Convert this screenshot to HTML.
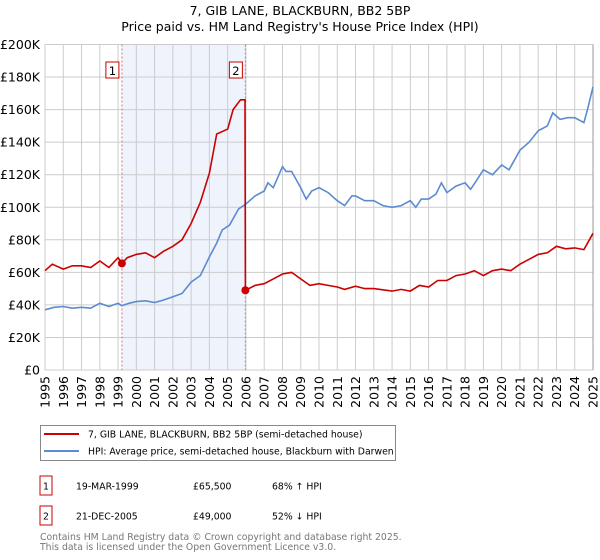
<!DOCTYPE html>
<html><head><meta charset="utf-8"><style>
body{margin:0;background:#fff;font-family:"Liberation Sans","DejaVu Sans",sans-serif;}
#wrap{position:relative;width:600px;height:560px;overflow:hidden}
</style></head><body>
<div id="wrap">
<svg id="chart" width="600" height="560" font-family="DejaVu Sans, Liberation Sans, sans-serif"></svg>
</div>
<script>
const hpiYears=[1995,1995.5,1996,1996.5,1997,1997.5,1998,1998.5,1999,1999.2,1999.6,2000,2000.5,2001,2001.5,2002,2002.5,2003,2003.5,2004,2004.4,2004.7,2005.1,2005.6,2006,2006.5,2007,2007.2,2007.5,2008,2008.2,2008.5,2009,2009.3,2009.6,2010,2010.5,2011,2011.4,2011.8,2012,2012.5,2013,2013.5,2014,2014.5,2015,2015.3,2015.6,2016,2016.4,2016.7,2017,2017.5,2018,2018.3,2018.6,2019,2019.5,2020,2020.4,2021,2021.5,2022,2022.5,2022.8,2023.2,2023.6,2024,2024.5,2024.7,2025];
const hpiValues=[37,38.5,39,38,38.5,38,41,39,41,39.5,41,42,42.5,41.5,43,45,47,54,58,69.5,78,86,89,99,102,107,110,115,112,125,122,122,112,105,110,112,109,104,101,107,107,104,104,101,100,101,104,100,105,105,108,115,109,113,115,111,116,123,120,126,123,135,140,147,150,158,154,155,155,152,160,174];
const redYears=[1995,1995.4,1996,1996.5,1997,1997.5,1998,1998.5,1999,1999.21,1999.5,2000,2000.5,2001,2001.5,2002,2002.5,2003,2003.5,2004,2004.4,2005,2005.3,2005.7,2005.95,2005.97,2006.5,2007,2007.5,2008,2008.5,2009,2009.5,2010,2010.5,2011,2011.4,2012,2012.5,2013,2014,2014.5,2015,2015.5,2016,2016.5,2017,2017.5,2018,2018.5,2019,2019.5,2020,2020.5,2021,2021.5,2022,2022.5,2023,2023.5,2024,2024.5,2025];
const redValues=[61,65,62,64,64,63,67,63,69,65.5,69,71,72,69,73,76,80,90,103,121,145,148,160,166,166,49,52,53,56,59,60,56,52,53,52,51,49.5,51.5,50,50,48.5,49.5,48.5,52,51,55,55,58,59,61,58,61,62,61,65,68,71,72,76,74.5,75,74,84];
const sales=[{label:"1",year:1999.21,value:65.5},{label:"2",year:2005.97,value:49}];
const yTicks=[0,20,40,60,80,100,120,140,160,180,200];
const yTickLabels=["£0","£20K","£40K","£60K","£80K","£100K","£120K","£140K","£160K","£180K","£200K"];
const xTicks=[1995,1996,1997,1998,1999,2000,2001,2002,2003,2004,2005,2006,2007,2008,2009,2010,2011,2012,2013,2014,2015,2016,2017,2018,2019,2020,2021,2022,2023,2024,2025];

const NS="http://www.w3.org/2000/svg";
const svg=document.getElementById('chart');
const L=45,R=593,T=44.5,B=370;
const xs=y=>L+(y-1995)/30*(R-L);
const ys=v=>B-v/200*(B-T);
function mk(tag,attrs,parent){const e=document.createElementNS(NS,tag);for(const k in attrs)e.setAttribute(k,attrs[k]);(parent||svg).appendChild(e);return e;}
function txt(s,attrs,parent){const e=mk('text',attrs,parent);e.textContent=s;return e;}

let t=txt("7, GIB LANE, BLACKBURN, BB2 5BP",{x:300,y:15,'text-anchor':'middle','font-size':12.5,fill:'#000'});


t=txt("Price paid vs. HM Land Registry's House Price Index (HPI)",{x:300,y:31,'text-anchor':'middle','font-size':12.5,fill:'#000'});



let sh=mk('rect',{x:xs(sales[0].year),y:T,width:xs(sales[1].year)-xs(sales[0].year),height:B-T,fill:'#eef3fc'});



const grid=mk('g',{stroke:'#cccccc','stroke-width':1});


yTicks.forEach((v,i)=>{
  mk('line',{x1:L,x2:R,y1:ys(v),y2:ys(v)},grid);
  const lb=txt(yTickLabels[i],{x:40,y:ys(v)+4.5,'text-anchor':'end','font-size':12.5,fill:'#000'});
  
  
});
xTicks.forEach(y=>{
  mk('line',{x1:xs(y),x2:xs(y),y1:T,y2:B},grid);
  const lb=txt(String(y),{x:0,y:0,'text-anchor':'end','font-size':12.5,fill:'#000',transform:`translate(${xs(y)+4.5},${B+6}) rotate(-90)`});
  
  
});
mk('line',{x1:R,x2:R,y1:T,y2:B,stroke:'#999'});

sales.forEach(s=>{
  const ln=mk('line',{x1:xs(s.year),x2:xs(s.year),y1:T,y2:B,stroke:'#e07070','stroke-dasharray':'2,2','stroke-width':1});
  
  
  const g=mk('g',{});
  
  
  mk('rect',{x:xs(s.year)-16,y:62,width:13,height:16,fill:'#fff',stroke:'#cc0000'},g);
  txt(s.label,{x:xs(s.year)-9.5,y:75,'text-anchor':'middle','font-size':11.5,fill:'#000'},g);
});

function path(xsArr,vArr){return xsArr.map((y,i)=>(i?'L':'M')+xs(y).toFixed(1)+','+ys(vArr[i]).toFixed(1)).join('');}
let hp=mk('path',{d:path(hpiYears,hpiValues),fill:'none',stroke:'#5b8bd0','stroke-width':1.6});


let rp=mk('path',{d:path(redYears,redValues),fill:'none',stroke:'#cc0000','stroke-width':1.6});


sales.forEach(s=>{
  const c=mk('circle',{cx:xs(s.year),cy:ys(s.value),r:4,fill:'#cc0000'});
  
  
});

const FS=9.3;
const lg=mk('g',{});


mk('rect',{x:40.5,y:425.5,width:355,height:35,fill:'#fff',stroke:'#888'},lg);
mk('line',{x1:44,x2:79,y1:434,y2:434,stroke:'#cc0000','stroke-width':2},lg);
txt("7, GIB LANE, BLACKBURN, BB2 5BP (semi-detached house)",{x:88,y:437.5,'font-size':FS,fill:'#000'},lg);
mk('line',{x1:44,x2:79,y1:451,y2:451,stroke:'#5b8bd0','stroke-width':2},lg);
txt("HPI: Average price, semi-detached house, Blackburn with Darwen",{x:88,y:454.5,'font-size':FS,fill:'#000'},lg);

const rows=[["1","19-MAR-1999","£65,500","68% ↑ HPI",476],["2","21-DEC-2005","£49,000","52% ↓ HPI",506]];
rows.forEach(r=>{
  const g=mk('g',{});
  
  
  mk('rect',{x:40,y:r[4],width:12,height:19,fill:'#fff',stroke:'#cc0000'},g);
  txt(r[0],{x:46,y:r[4]+13.5,'text-anchor':'middle','font-size':FS,fill:'#000'},g);
  txt(r[1],{x:76,y:r[4]+13.5,'font-size':FS,fill:'#000'},g);
  txt(r[2],{x:193,y:r[4]+13.5,'font-size':FS,fill:'#000'},g);
  txt(r[3],{x:272,y:r[4]+13.5,'font-size':FS,fill:'#000'},g);
});
t=txt("Contains HM Land Registry data © Crown copyright and database right 2025.",{x:40,y:540,'font-size':FS,fill:'#777'});


t=txt("This data is licensed under the Open Government Licence v3.0.",{x:40,y:550,'font-size':FS,fill:'#777'});


</script>
</body></html>
